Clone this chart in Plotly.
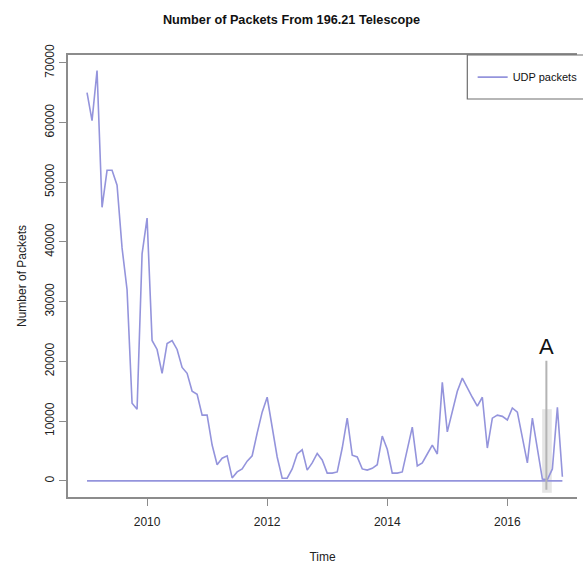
import numpy as np
import plotly.graph_objects as go

# Monthly UDP packet counts, Jan 2009 - Dec 2016
start_year = 2009
udp_packets = [
    65000, 60300, 68700, 45800, 52000, 52000, 49500, 39000, 32000, 13000,
    12000, 38000, 44000, 23500, 22000, 18000, 23000, 23500, 22000, 19000,
    18000, 15000, 14500, 11000, 11000, 6000, 2700, 3800, 4200, 500,
    1500, 2000, 3300, 4200, 8000, 11500, 14000, 9000, 4000, 450,
    450, 2000, 4500, 5200, 1800, 3000, 4600, 3500, 1300, 1300,
    1500, 5500, 10500, 4300, 4000, 2000, 1800, 2100, 2700, 7500,
    5300, 1300, 1300, 1500, 5000, 9000, 2500, 3000, 4500, 6000,
    4500, 16500, 8200, 11500, 15000, 17200, 15500, 14000, 12500, 14000,
    5500, 10500, 11000, 10800, 10200, 12200, 11500, 7000, 3000, 10500,
    5000, 300, 200, 2000, 12300, 700,
]
baseline = [0] * len(udp_packets)

x_ticks = [2010, 2012, 2014, 2016]
x_tick_labels = ["2010", "2012", "2014", "2016"]
y_ticks = [0, 10000, 20000, 30000, 40000, 50000, 60000, 70000]
y_tick_labels = ["0", "10000", "20000", "30000", "40000", "50000", "60000", "70000"]

time = start_year + np.arange(len(udp_packets)) / 12.0

line_color = "rgb(148,148,220)"
axis_color = "rgb(140,140,140)"
font_family = "Liberation Sans, Arial, sans-serif"

fig = go.Figure()
fig.add_trace(go.Scatter(
    x=time, y=udp_packets, mode="lines", name="UDP packets",
    line=dict(color=line_color, width=1.6),
))
fig.add_trace(go.Scatter(
    x=time, y=baseline, mode="lines", showlegend=False,
    line=dict(color=line_color, width=1.6),
))

# highlighted event
fig.add_shape(type="rect", xref="x", yref="y",
              x0=2016.58, x1=2016.74, y0=-2000, y1=12000,
              fillcolor="rgba(190,190,190,0.4)", line=dict(width=0),
              layer="below")
fig.add_annotation(x=2016.65, y=-1500, xref="x", yref="y",
                   text="A", showarrow=True, arrowhead=0,
                   arrowwidth=2, arrowcolor="rgb(180,180,180)",
                   ax=0, ay=-143,
                   font=dict(family="Liberation Sans, Arial", size=22, color="#111"))

# legend frame
fig.add_shape(type="rect", xref="paper", yref="paper",
              x0=0.7845, x1=1.03, y0=0.9005, y1=1.0,
              line=dict(color="rgb(110,110,110)", width=1.2),
              fillcolor="rgba(0,0,0,0)", layer="above")

fig.update_layout(
    width=583, height=564,
    margin=dict(l=68, r=0, t=55, b=67),
    paper_bgcolor="white", plot_bgcolor="white",
    font=dict(family=font_family, size=12, color="#222"),
    title=dict(text="<b>Number of Packets From 196.21 Telescope</b>",
               x=0.5, xref="container", xanchor="center",
               y=0.965, yref="container", yanchor="middle",
               font=dict(family=font_family, size=12.7, color="#111")),
    showlegend=True,
    legend=dict(x=0.795, y=0.950, xanchor="left", yanchor="middle",
                xref="paper", yref="paper",
                borderwidth=0, bgcolor="rgba(0,0,0,0)", itemwidth=30,
                font=dict(family=font_family, size=11, color="#111")),
)

fig.update_xaxes(
    range=[2008.683, 2017.16],
    tickvals=x_ticks, ticktext=x_tick_labels,
    showgrid=False, zeroline=False,
    showline=True, mirror=True, linecolor=axis_color, linewidth=1.5,
    ticks="outside", ticklen=7, tickcolor=axis_color,
    ticklabelstandoff=6,
    title=dict(text="Time", standoff=24,
               font=dict(family=font_family, size=12, color="#222")),
)
fig.update_yaxes(
    range=[-2700, 71300],
    tickvals=y_ticks, ticktext=y_tick_labels, tickangle=-90,
    showgrid=False, zeroline=False,
    showline=True, linecolor=axis_color, linewidth=1.5,
    ticks="outside", ticklen=7, tickcolor=axis_color,
    title=dict(text="Number of Packets", standoff=14,
               font=dict(family=font_family, size=12, color="#222")),
)

fig.write_html("out.html")
